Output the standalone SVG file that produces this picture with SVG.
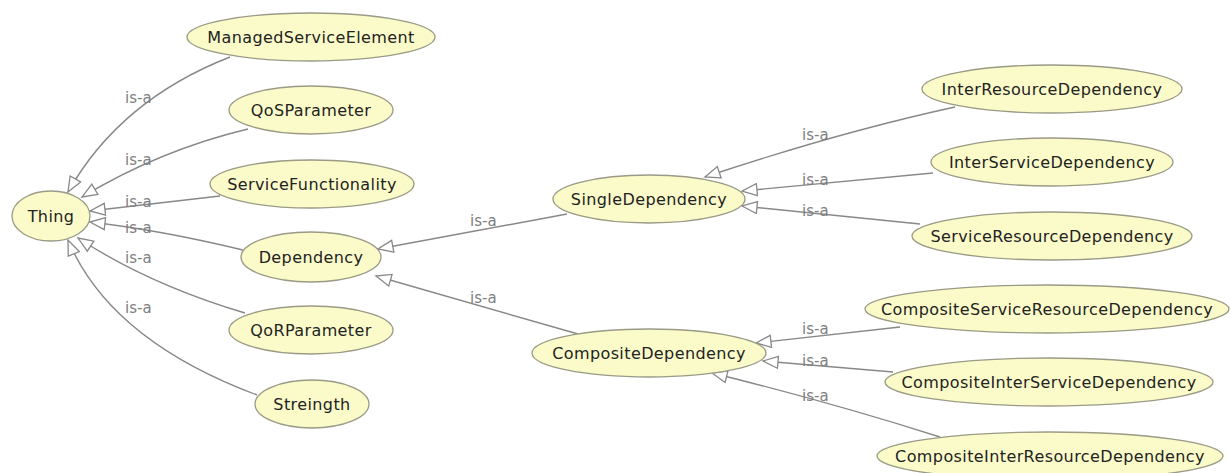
<svg xmlns="http://www.w3.org/2000/svg" width="1230" height="473" viewBox="0 0 1230 473">
<style>
.node ellipse{fill:#fbfbc9;stroke:#9a9a86;stroke-width:1.3}
.node text{font-family:"DejaVu Sans",sans-serif;font-size:16px;fill:#222;text-anchor:middle;letter-spacing:0.4px}
.edge{fill:none;stroke:#888;stroke-width:1.4;marker-end:url(#tri)}
.lbl{font-family:"DejaVu Sans",sans-serif;font-size:15px;fill:#808080}
</style>
<defs>
<marker id="tri" markerUnits="userSpaceOnUse" markerWidth="18" markerHeight="14" refX="16" refY="7" orient="auto">
<path d="M1,1 L16,7 L1,13 Z" fill="#fff" stroke="#888" stroke-width="1.3"/>
</marker>
</defs>
<rect width="1230" height="473" fill="#fff"/>
<g id="connectors">
<path class="edge" d="M230,57 Q120,100 68,192"/>
<path class="edge" d="M248,129 Q160,150 82,197"/>
<path class="edge" d="M220,196 L90,211"/>
<path class="edge" d="M243,250 Q160,230 90,222"/>
<path class="edge" d="M245,313 Q150,285 78,238"/>
<path class="edge" d="M257,395 Q110,340 68,240"/>
<path class="edge" d="M567,214 L378,249"/>
<path class="edge" d="M578,334 L376,276"/>
<path class="edge" d="M955,107 Q840,132 705,177"/>
<path class="edge" d="M933,173 L742,191"/>
<path class="edge" d="M920,224 L742,206"/>
<path class="edge" d="M900,327 L756,343"/>
<path class="edge" d="M893,372 L763,361"/>
<path class="edge" d="M940,437 Q830,402 712,373"/>
<text class="lbl" x="125" y="103">is-a</text>
<text class="lbl" x="125" y="165">is-a</text>
<text class="lbl" x="125" y="207">is-a</text>
<text class="lbl" x="125" y="233">is-a</text>
<text class="lbl" x="125" y="263">is-a</text>
<text class="lbl" x="125" y="313">is-a</text>
<text class="lbl" x="470" y="226">is-a</text>
<text class="lbl" x="470" y="303">is-a</text>
<text class="lbl" x="802" y="140">is-a</text>
<text class="lbl" x="802" y="185">is-a</text>
<text class="lbl" x="802" y="216">is-a</text>
<text class="lbl" x="802" y="334">is-a</text>
<text class="lbl" x="802" y="366">is-a</text>
<text class="lbl" x="802" y="401">is-a</text>
</g>
<g id="n-thing" class="node"><ellipse cx="51" cy="216" rx="39" ry="25"/><text x="51" y="222">Thing</text></g>
<g id="n-mse" class="node"><ellipse cx="311" cy="37" rx="124" ry="24"/><text x="311" y="43">ManagedServiceElement</text></g>
<g id="n-qos" class="node"><ellipse cx="311" cy="110" rx="82" ry="24"/><text x="311" y="116">QoSParameter</text></g>
<g id="n-sf" class="node"><ellipse cx="312" cy="184" rx="102" ry="24"/><text x="312" y="190">ServiceFunctionality</text></g>
<g id="n-dep" class="node"><ellipse cx="311" cy="257" rx="70" ry="25"/><text x="311" y="263">Dependency</text></g>
<g id="n-qor" class="node"><ellipse cx="311" cy="330" rx="82" ry="24"/><text x="311" y="336">QoRParameter</text></g>
<g id="n-str" class="node"><ellipse cx="312" cy="404" rx="57" ry="24"/><text x="312" y="410">Streingth</text></g>
<g id="n-sd" class="node"><ellipse cx="649" cy="199" rx="96" ry="24"/><text x="649" y="205">SingleDependency</text></g>
<g id="n-cd" class="node"><ellipse cx="649" cy="353" rx="117" ry="24"/><text x="649" y="359">CompositeDependency</text></g>
<g id="n-ird" class="node"><ellipse cx="1052" cy="89" rx="130" ry="24"/><text x="1052" y="95">InterResourceDependency</text></g>
<g id="n-isd" class="node"><ellipse cx="1052" cy="162" rx="121" ry="24"/><text x="1052" y="168">InterServiceDependency</text></g>
<g id="n-srd" class="node"><ellipse cx="1052" cy="236" rx="140" ry="24"/><text x="1052" y="242">ServiceResourceDependency</text></g>
<g id="n-csrd" class="node"><ellipse cx="1047" cy="309" rx="182" ry="24"/><text x="1047" y="315">CompositeServiceResourceDependency</text></g>
<g id="n-cisd" class="node"><ellipse cx="1049" cy="382" rx="164" ry="24"/><text x="1049" y="388">CompositeInterServiceDependency</text></g>
<g id="n-cird" class="node"><ellipse cx="1050" cy="456" rx="173" ry="24"/><text x="1050" y="462">CompositeInterResourceDependency</text></g>
</svg>
